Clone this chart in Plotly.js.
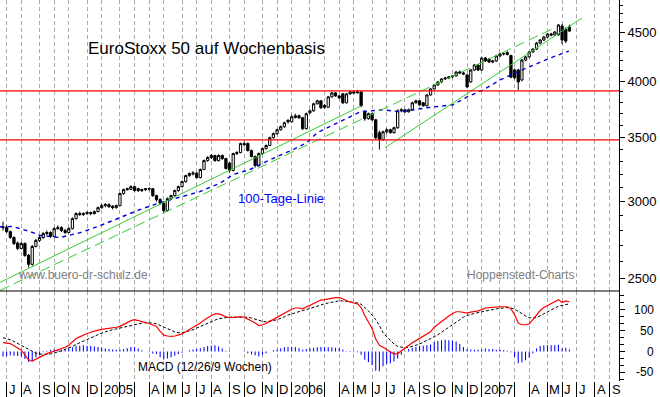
<!DOCTYPE html>
<html><head><meta charset="utf-8">
<script src="https://cdn.plot.ly/plotly-3.0.1.min.js"></script>
<style>html,body{margin:0;padding:0;background:#fff}#chart{width:660px;height:397px}</style>
</head><body><div id="chart"></div>
<script>
const weeks = [
"2004-06-28","2004-07-05","2004-07-12","2004-07-19","2004-07-26","2004-08-02","2004-08-09","2004-08-16","2004-08-23","2004-08-30",
"2004-09-06","2004-09-13","2004-09-20","2004-09-27","2004-10-04","2004-10-11","2004-10-18","2004-10-25","2004-11-01","2004-11-08",
"2004-11-15","2004-11-22","2004-11-29","2004-12-06","2004-12-13","2004-12-20","2004-12-27",
"2005-01-03","2005-01-10","2005-01-17","2005-01-24","2005-01-31","2005-02-07","2005-02-14","2005-02-21","2005-02-28","2005-03-07",
"2005-03-14","2005-03-21","2005-03-28","2005-04-04","2005-04-11","2005-04-18","2005-04-25","2005-05-02","2005-05-09","2005-05-16",
"2005-05-23","2005-05-30","2005-06-06","2005-06-13","2005-06-20","2005-06-27","2005-07-04","2005-07-11","2005-07-18","2005-07-25",
"2005-08-01","2005-08-08","2005-08-15","2005-08-22","2005-08-29","2005-09-05","2005-09-12","2005-09-19","2005-09-26","2005-10-03",
"2005-10-10","2005-10-17","2005-10-24","2005-10-31","2005-11-07","2005-11-14","2005-11-21","2005-11-28","2005-12-05","2005-12-12",
"2005-12-19","2005-12-26",
"2006-01-02","2006-01-09","2006-01-16","2006-01-23","2006-01-30","2006-02-06","2006-02-13","2006-02-20","2006-02-27","2006-03-06",
"2006-03-13","2006-03-20","2006-03-27","2006-04-03","2006-04-10","2006-04-17","2006-04-24","2006-05-01","2006-05-08","2006-05-15",
"2006-05-22","2006-05-29","2006-06-05","2006-06-12","2006-06-19","2006-06-26","2006-07-03","2006-07-10","2006-07-17","2006-07-24",
"2006-07-31","2006-08-07","2006-08-14","2006-08-21","2006-08-28","2006-09-04","2006-09-11","2006-09-18","2006-09-25","2006-10-02",
"2006-10-09","2006-10-16","2006-10-23","2006-10-30","2006-11-06","2006-11-13","2006-11-20","2006-11-27","2006-12-04","2006-12-11",
"2006-12-18","2006-12-25",
"2007-01-01","2007-01-08","2007-01-15","2007-01-22","2007-01-29","2007-02-05","2007-02-12","2007-02-19","2007-02-26","2007-03-05",
"2007-03-12","2007-03-19","2007-03-26","2007-04-02","2007-04-09","2007-04-16","2007-04-23","2007-04-30","2007-05-07","2007-05-14",
"2007-05-21","2007-05-28","2007-06-04","2007-06-11","2007-06-18"];

const openV = [
2826,2822,2793,2754,2718,2683,2715,2639,2583,2696,2735,2754,2780,2787,2761,2813,2820,2800,2787,2813,
2881,2916,2909,2916,2923,2916,2930,2958,2972,2979,2968,2958,2972,3059,3088,3090,3110,3095,3081,3088,
3092,3095,3044,3015,2990,2937,3022,3044,3081,3110,3148,3193,3205,3212,3178,3240,3310,3334,3350,3310,
3350,3326,3290,3232,3366,3374,3447,3447,3390,3342,3271,3366,3406,3431,3496,3530,3563,3589,3645,3632,
3668,3684,3666,3572,3710,3728,3791,3818,3775,3760,3854,3891,3863,3882,3800,3882,3900,3891,3900,3719,
3658,3702,3649,3538,3480,3546,3563,3538,3580,3728,3737,3719,3737,3800,3818,3800,3773,3872,3928,3965,
3994,4023,4032,4042,4052,4090,4081,4061,3994,4110,4159,4110,4229,4219,4189,4199,4250,4270,4265,4255,
4110,4110,4013,4209,4240,4290,4320,4383,4415,4446,4479,4468,4470,4565,4533,4554];
const highV = [
2860,2835,2800,2762,2728,2725,2722,2648,2705,2745,2765,2790,2800,2795,2822,2835,2830,2812,2822,2890,
2925,2930,2925,2932,2930,2938,2965,2985,2990,2988,2975,2980,3065,3095,3102,3120,3115,3102,3095,3100,
3105,3100,3050,3025,3000,3030,3050,3088,3118,3155,3200,3218,3228,3220,3248,3318,3345,3362,3356,3360,
3358,3332,3298,3372,3385,3455,3462,3458,3398,3350,3375,3415,3440,3505,3540,3572,3598,3632,3652,3690,
3702,3695,3675,3712,3740,3800,3828,3825,3790,3862,3900,3898,3870,3890,3890,3908,3912,3918,3905,3735,
3712,3710,3655,3555,3555,3575,3572,3590,3740,3750,3745,3748,3810,3828,3825,3808,3880,3935,3972,4000,
4030,4040,4050,4060,4098,4105,4092,4070,4120,4170,4165,4240,4240,4230,4212,4262,4282,4285,4300,4262,
4125,4120,4220,4250,4300,4330,4395,4425,4460,4490,4492,4510,4587,4587,4550,4580];
const lowV = [
2800,2785,2745,2705,2672,2676,2630,2565,2575,2690,2725,2745,2768,2752,2755,2805,2790,2778,2780,2808,
2875,2900,2900,2908,2905,2910,2925,2950,2960,2955,2945,2950,2968,3050,3080,3085,3072,3070,3070,3078,
3080,3035,3000,2980,2920,2930,3015,3038,3072,3102,3140,3185,3195,3170,3172,3235,3300,3322,3300,3302,
3315,3240,3215,3225,3355,3368,3425,3382,3335,3255,3262,3358,3398,3425,3488,3520,3555,3580,3615,3625,
3660,3655,3560,3565,3700,3720,3785,3745,3745,3755,3848,3855,3835,3790,3795,3875,3880,3885,3760,3640,
3650,3640,3480,3398,3470,3530,3530,3530,3572,3715,3710,3712,3730,3792,3775,3765,3765,3865,3920,3958,
3985,4012,4020,4030,4045,4070,4060,3935,3985,4100,4100,4100,4190,4180,4178,4190,4240,4255,4255,4030,
4020,3919,4000,4195,4230,4280,4310,4370,4405,4435,4455,4460,4460,4373,4383,4500];
const closeV = [
2820,2793,2754,2715,2683,2715,2639,2583,2696,2735,2754,2780,2787,2761,2813,2820,2800,2787,2813,2881,
2916,2909,2916,2923,2916,2930,2958,2972,2979,2965,2958,2972,3059,3088,3095,3110,3081,3081,3088,3095,
3095,3044,3015,2990,2937,3022,3044,3081,3110,3148,3193,3209,3212,3178,3240,3310,3334,3350,3310,3350,
3326,3248,3232,3366,3374,3447,3439,3390,3342,3271,3366,3406,3431,3496,3530,3563,3589,3623,3632,3675,
3684,3666,3572,3702,3728,3791,3818,3755,3760,3854,3891,3863,3845,3800,3882,3900,3891,3900,3773,3658,
3702,3649,3496,3480,3546,3563,3538,3580,3728,3737,3719,3737,3800,3818,3782,3773,3872,3928,3965,3994,
4023,4032,4042,4052,4090,4081,4071,3947,4110,4159,4110,4229,4199,4189,4199,4250,4270,4275,4285,4040,
4035,3994,4209,4240,4290,4320,4383,4415,4446,4479,4468,4500,4576,4415,4404,4511];

// 100-Tage-Linie (traced)
const maDates = ["2004-06-22","2004-07-17","2004-08-19","2004-09-07","2004-10-15","2004-11-23","2004-12-31","2005-02-07",
"2005-03-17","2005-04-25","2005-06-02","2005-07-10","2005-08-18","2005-09-12","2005-10-14","2005-11-02","2005-12-05",
"2006-01-05","2006-01-31","2006-02-20","2006-03-22","2006-04-24","2006-05-13","2006-06-26","2006-07-29","2006-09-18",
"2006-11-07","2006-12-04","2007-01-04","2007-02-05","2007-03-10","2007-04-09","2007-05-12","2007-06-17"];
const maValues = [2826,2827,2793,2767,2754,2786,2833,2887,2944,2993,3030,3073,3136,3201,3240,3279,3342,
3398,3455,3538,3606,3675,3719,3737,3719,3755,3782,3854,3919,4013,4090,4159,4229,4300];

// trend lines and horizontal lines
const trendA = {dates:["2004-06-22 06:00","2006-05-16"], values:[2474,3773]};
const trendB = {dates:["2004-06-22 06:00","2007-05-16"], values:[2427,4532]};
const trendD = {dates:["2006-06-30","2007-07-12"], values:[3414,4653]};
const hLines = [3910, 3477];

// MACD (12/26/9)
const macd = [21,20,19,14,8,3,-8,-20,-23,-18,-14,-9,-5,-2,1,4,6,10,15,22,31,35,40,43,46,49,51,53,54,56,
57,58,60,64,69,74,76,74,71,69,67,63,60,48,39,37,36,37,39,42,47,52,57,62,68,75,81,86,90,90,
87,83,81,82,83,83,82,78,73,68,62,64,67,72,77,81,87,93,98,101,104,104,102,106,111,115,119,123,124,126,
128,129,129,126,121,118,116,114,105,86,72,55,30,15,10,5,-2,-6,-5,2,8,16,21,26,31,36,41,47,58,65,
73,80,85,90,95,95,93,92,94,95,97,100,104,105,106,106,107,107,107,102,88,68,64,64,66,76,88,98,105,110,
115,119,124,117,121,119];
const signal = [33,31,28,24,19,15,10,5,0,-4,-6,-7,-7,-6,-4,-1,2,5,8,12,17,21,25,29,33,37,40,44,47,50,
52,54,56,58,61,63,65,67,68,69,69,68,66,62,58,54,50,47,45,45,47,49,52,56,60,64,68,72,75,78,
80,81,82,82,83,83,83,82,80,77,74,72,71,72,74,76,79,83,87,90,93,96,98,100,103,106,109,112,114,116,
118,120,121,121,120,119,118,116,113,106,97,87,76,62,45,35,26,18,12,10,9,10,12,15,18,22,26,30,35,40,
46,52,58,64,71,77,82,86,89,91,93,95,97,99,100,102,103,104,105,104,101,96,90,85,81,80,81,85,90,95,
100,104,108,110,112,114];
const hist = [-12,-11,-9,-10,-11,-12,-18,-25,-23,-14,-8,-2,2,4,5,5,4,5,7,10,14,14,15,14,13,12,11,9,7,6,
5,4,4,6,8,11,11,7,3,0,-2,-5,-6,-14,-19,-17,-14,-10,-6,-3,0,3,5,6,8,11,13,14,15,12,
7,2,-1,0,0,0,-1,-4,-7,-9,-12,-8,-4,0,3,5,8,10,11,11,11,8,4,6,8,9,10,11,10,10,
10,9,8,5,1,-1,-2,-2,-8,-20,-25,-32,-46,-47,-35,-30,-28,-24,-17,-8,-1,6,9,11,13,14,15,17,23,25,
27,28,27,26,24,18,11,6,5,4,4,5,7,6,6,4,4,3,2,-2,-13,-28,-26,-21,-15,-4,7,13,15,15,
15,15,16,7,9,5];

// axis ticks / labels
const monthDates = ["2004-07-05","2004-08-02","2004-09-06","2004-10-04","2004-11-01","2004-12-06",
"2005-01-03","2005-02-07","2005-03-07","2005-04-04","2005-05-02","2005-06-06","2005-07-04","2005-08-01","2005-09-05","2005-10-03","2005-11-07","2005-12-05",
"2006-01-02","2006-02-06","2006-03-06","2006-04-03","2006-05-01","2006-06-05","2006-07-03","2006-08-07","2006-09-04","2006-10-02","2006-11-06","2006-12-04",
"2007-01-01","2007-02-05","2007-03-05","2007-04-02","2007-05-07","2007-06-04","2007-07-02","2007-08-06","2007-09-03"];
const monthLabels = ["J","A","S","O","N","D",
"2005","","","A","M","J","J","A","S","O","N","D",
"2006","","","A","M","J","J","A","S","O","N","D",
"2007","","","A","M","J","J","A","S"];
const priceTicks = [2500,3000,3500,4000,4500];
const priceMinor = [2500,2600,2700,2800,2900,3000,3100,3200,3300,3400,3500,3600,3700,3800,3900,4000,4100,4200,4300,4400,4500,4600,4700,4800];
const macdTicks = [-50,0,50,100];

const xRange = ["2004-06-22 06:00","2007-09-21"];
const FONT = "Liberation Sans, Arial, sans-serif";
const DAY = 86400000;

const traces = [
  {type:'candlestick', x:weeks, open:openV, high:highV, low:lowV, close:closeV, xaxis:'x', yaxis:'y',
   increasing:{line:{color:'#000',width:1}, fillcolor:'#ffffff'},
   decreasing:{line:{color:'#000',width:1}, fillcolor:'#000000'},
   whiskerwidth:0, hoverinfo:'skip', showlegend:false},
  {type:'scatter', mode:'lines', x:maDates, y:maValues, xaxis:'x', yaxis:'y',
   line:{color:'#0000dd', width:1.4, dash:'4px,4px'}, hoverinfo:'skip'},
  {type:'scatter', mode:'lines', x:trendA.dates, y:trendA.values, xaxis:'x', yaxis:'y',
   line:{color:'#33cc33', width:1}, hoverinfo:'skip'},
  {type:'scatter', mode:'lines', x:trendB.dates, y:trendB.values, xaxis:'x', yaxis:'y',
   line:{color:'#33cc33', width:1, dash:'10px,5px'}, hoverinfo:'skip'},
  {type:'scatter', mode:'lines', x:trendD.dates, y:trendD.values, xaxis:'x', yaxis:'y',
   line:{color:'#33cc33', width:1}, hoverinfo:'skip'}
];
hLines.forEach(v => traces.push({type:'scatter', mode:'lines', x:xRange, y:[v,v], xaxis:'x', yaxis:'y',
   line:{color:'#ff0000', width:1.2}, hoverinfo:'skip'}));
traces.push(
  {type:'bar', x:weeks, y:hist, xaxis:'x2', yaxis:'y2', width:2*DAY,
   marker:{color:'#0000ff', line:{width:0}}, hoverinfo:'skip'},
  {type:'scatter', mode:'lines', x:weeks, y:signal, xaxis:'x2', yaxis:'y2',
   line:{color:'#000', width:1, dash:'3px,2px'}, hoverinfo:'skip'},
  {type:'scatter', mode:'lines', x:weeks, y:macd, xaxis:'x2', yaxis:'y2',
   line:{color:'#ff0000', width:1.2}, hoverinfo:'skip'}
);

const SPLIT = 0.2362;
const annotations = [
  {xref:'paper', yref:'paper', x:86/619, y:(381-48)/381, xanchor:'left', yanchor:'middle',
   text:'EuroStoxx 50 auf Wochenbasis', showarrow:false, font:{family:FONT, size:17, color:'#000'}},
  {xref:'paper', yref:'paper', x:236/619, y:(381-198)/381, xanchor:'left', yanchor:'middle',
   text:'100-Tage-Linie', showarrow:false, font:{family:FONT, size:13, color:'#0000ff'}},
  {xref:'paper', yref:'paper', x:16/619, y:(381-275)/381, xanchor:'left', yanchor:'middle',
   text:'www.buero-dr-schulz.de', showarrow:false, font:{family:FONT, size:12, color:'#808080'}},
  {xref:'paper', yref:'paper', x:465/619, y:(381-275)/381, xanchor:'left', yanchor:'middle',
   text:'Hoppenstedt-Charts', showarrow:false, font:{family:FONT, size:12, color:'#808080'}},
  {xref:'paper', yref:'paper', x:136/619, y:(381-367)/381, xanchor:'left', yanchor:'middle',
   text:'MACD (12/26/9 Wochen)', showarrow:false, font:{family:FONT, size:12, color:'#000'}}
];
monthDates.forEach((d,k) => { if (monthLabels[k]) annotations.push(
  {xref:'x2', yref:'paper', x:d, y:(381-389)/381, xanchor:'left', yanchor:'middle', xshift:0,
   text:monthLabels[k], showarrow:false, font:{family:FONT, size:13, color:'#000'}}); });
macdTicks.forEach(v => annotations.push(
  {xref:'paper', yref:'y2', x:656/619, y:v, xanchor:'right', yanchor:'middle',
   text:String(v), showarrow:false, font:{family:FONT, size:12, color:'#000'}}));

const grid = {showgrid:true, gridcolor:'#a8a8a8', griddash:'4px,3px', gridwidth:1};
const layout = {
  width:660, height:397, margin:{l:0, r:41, t:0, b:16, pad:0},
  paper_bgcolor:'#fff', plot_bgcolor:'#fff', showlegend:false,
  font:{family:FONT, size:12, color:'#000'}, boxgap:0.38, boxgroupgap:0,
  xaxis:Object.assign({type:'date', range:xRange, domain:[0,1], anchor:'y', tickmode:'array', tickvals:monthDates,
    showticklabels:false, ticks:'', zeroline:false, rangeslider:{visible:false}}, grid),
  yaxis:{type:'log', range:[Math.log10(2423.5), Math.log10(4858)], domain:[SPLIT,1], side:'right', anchor:'x',
    tickmode:'array', tickvals:priceTicks, ticktext:priceTicks.map(String), ticks:'outside', ticklen:5, tickcolor:'#000',
    showline:true, linecolor:'#000', linewidth:1, showgrid:false, zeroline:false, tickfont:{size:13, family:FONT},
    minor:{tickmode:'array', tickvals:priceMinor, ticks:'outside', ticklen:3, tickcolor:'#000', showgrid:false}},
  xaxis2:Object.assign({type:'date', range:xRange, domain:[0,1], anchor:'y2', tickmode:'array', tickvals:monthDates,
    showticklabels:false, ticks:'outside', ticklen:16, tickcolor:'#000', tickwidth:1, zeroline:false,
    rangeslider:{visible:false}}, grid),
  yaxis2:{range:[-70.5,144.6], domain:[0,SPLIT], side:'right', anchor:'x2', tickmode:'array', tickvals:macdTicks,
    showticklabels:false, ticks:'outside', ticklen:5, tickcolor:'#000', showline:true, linecolor:'#000', linewidth:1,
    showgrid:false, zeroline:false,
    minor:{tick0:0, dtick:50/3, ticks:'outside', ticklen:4, tickcolor:'#000', showgrid:false}},
  shapes:[{type:'line', xref:'paper', yref:'paper', x0:0, x1:1, y0:SPLIT, y1:SPLIT, line:{color:'#000', width:1}}],
  annotations:annotations
};
Plotly.newPlot('chart', traces, layout, {staticPlot:true, displayModeBar:false});
</script></body></html>
